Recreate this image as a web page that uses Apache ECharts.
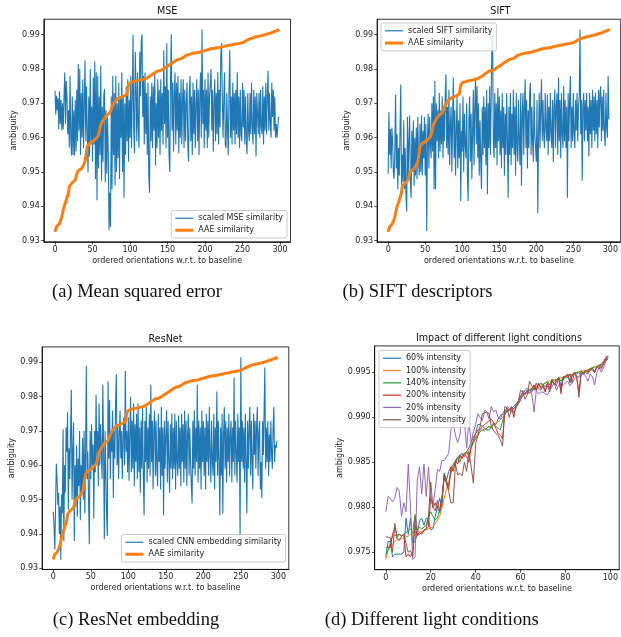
<!DOCTYPE html>
<html><head><meta charset="utf-8">
<script src="https://cdn.jsdelivr.net/npm/echarts@6/dist/echarts.min.js"></script>
<style>html,body{margin:0;padding:0;background:#fff}#c{width:621px;height:637px}</style>
</head><body><div id="c"></div>
<script>
const xTicks300 = [0,50,100,150,200,250,300];
const yTicksSim = [0.93,0.94,0.95,0.96,0.97,0.98,0.99];
const xTicks100 = [0,20,40,60,80,100];
const yTicksLight = [0.975,0.980,0.985,0.990,0.995];

const aae = [
.9326,.9335,.9341,.9343,.9345,.9347,.9349,.9356,.9363,.9370,
.9380,.9390,.9399,.9405,.9412,.9418,.9420,.9423,.9440,.9457,
.9461,.9464,.9467,.9469,.9471,.9473,.9475,.9477,.9485,.9493,
.9501,.9503,.9505,.9507,.9508,.9510,.9511,.9516,.9521,.9526,
.9530,.9545,.9560,.9574,.9578,.9581,.9584,.9585,.9586,.9588,
.9589,.9590,.9592,.9593,.9596,.9598,.9601,.9603,.9610,.9617,
.9627,.9637,.9642,.9647,.9651,.9654,.9657,.9660,.9663,.9666,
.9667,.9669,.9670,.9671,.9677,.9683,.9689,.9695,.9698,.9702,
.9705,.9708,.9710,.9713,.9715,.9716,.9717,.9717,.9718,.9719,
.9720,.9721,.9722,.9723,.9724,.9725,.9727,.9740,.9753,.9757,
.9760,.9761,.9762,.9762,.9763,.9764,.9764,.9765,.9765,.9766,
.9766,.9767,.9767,.9768,.9768,.9769,.9769,.9770,.9770,.9771,
.9772,.9772,.9773,.9774,.9776,.9777,.9779,.9780,.9782,.9783,
.9785,.9786,.9788,.9789,.9791,.9792,.9794,.9794,.9795,.9795,
.9796,.9796,.9797,.9799,.9800,.9801,.9803,.9804,.9806,.9807,
.9808,.9810,.9811,.9813,.9814,.9816,.9817,.9819,.9820,.9822,
.9823,.9825,.9826,.9827,.9828,.9828,.9829,.9830,.9830,.9831,
.9832,.9834,.9835,.9837,.9838,.9840,.9841,.9842,.9842,.9843,
.9843,.9844,.9845,.9845,.9846,.9846,.9847,.9847,.9847,.9848,
.9848,.9848,.9849,.9849,.9850,.9851,.9851,.9852,.9852,.9853,
.9854,.9854,.9855,.9856,.9856,.9857,.9857,.9858,.9859,.9859,
.9860,.9860,.9860,.9861,.9861,.9861,.9862,.9862,.9862,.9863,
.9863,.9864,.9864,.9865,.9865,.9866,.9866,.9867,.9867,.9868,
.9868,.9869,.9869,.9869,.9870,.9870,.9871,.9871,.9872,.9872,
.9872,.9873,.9873,.9873,.9874,.9874,.9874,.9875,.9875,.9876,
.9877,.9878,.9879,.9880,.9881,.9882,.9884,.9885,.9886,.9887,
.9888,.9889,.9890,.9891,.9892,.9892,.9893,.9893,.9894,.9894,
.9895,.9895,.9896,.9896,.9897,.9897,.9898,.9898,.9899,.9899,
.9900,.9900,.9901,.9902,.9902,.9903,.9904,.9904,.9905,.9906,
.9907,.9908,.9909,.9909,.9910,.9911,.9912,.9913,.9914,.9916];

const mse = [
.9737,.9668,.9722,.9680,.9715,.9625,.9735,.9640,.9710,.9622,
.9700,.9625,.9720,.9790,.9640,.9765,.9715,.9610,.9680,.9571,
.9780,.9600,.9548,.9720,.9550,.9680,.9548,.9710,.9560,.9740,
.9590,.9815,.9620,.9800,.9550,.9730,.9600,.9770,.9570,.9700,
.9825,.9590,.9750,.9620,.9500,.9720,.9545,.9800,.9590,.9690,
.9530,.9775,.9580,.9823,.9480,.9790,.9418,.9780,.9510,.9720,
.9550,.9810,.9475,.9690,.9530,.9720,.9742,.9470,.9680,.9495,
.9660,.9560,.9330,.9440,.9340,.9720,.9450,.9780,.9550,.9730,
.9460,.9780,.9500,.9700,.9540,.9760,.9480,.9720,.9600,.9790,
.9500,.9720,.9425,.9700,.9550,.9750,.9590,.9770,.9530,.9710,
.9600,.9780,.9570,.9720,.9900,.9620,.9555,.9850,.9740,.9590,
.9790,.9630,.9570,.9850,.9720,.9880,.9901,.9660,.9780,.9580,
.9790,.9610,.9730,.9550,.9760,.9490,.9440,.9720,.9590,.9760,
.9570,.9750,.9620,.9790,.9520,.9700,.9570,.9770,.9600,.9740,
.9550,.9770,.9620,.9730,.9580,.9855,.9640,.9750,.9570,.9875,
.9600,.9740,.9550,.9500,.9770,.9901,.9620,.9760,.9560,.9730,
.9790,.9580,.9760,.9620,.9780,.9555,.9730,.9600,.9770,.9580,
.9710,.9770,.9570,.9740,.9590,.9700,.9760,.9580,.9530,.9730,
.9780,.9590,.9720,.9550,.9760,.9610,.9740,.9570,.9700,.9770,
.9590,.9740,.9550,.9720,.9790,.9600,.9915,.9640,.9740,.9570,
.9770,.9620,.9740,.9570,.9790,.9600,.9720,.9760,.9800,.9620,
.9740,.9560,.9700,.9770,.9590,.9730,.9610,.9790,.9580,.9740,
.9630,.9840,.9875,.9720,.9600,.9710,.9790,.9580,.9570,.9730,
.9620,.9550,.9750,.9855,.9600,.9720,.9580,.9760,.9620,.9730,
.9580,.9740,.9610,.9790,.9600,.9720,.9570,.9740,.9610,.9590,
.9760,.9630,.9740,.9580,.9720,.9600,.9552,.9730,.9620,.9590,
.9730,.9610,.9760,.9630,.9580,.9740,.9610,.9720,.9545,.9730,
.9735,.9610,.9730,.9600,.9740,.9630,.9610,.9750,.9580,.9720,
.9620,.9760,.9610,.9720,.9795,.9620,.9730,.9640,.9600,.9760,
.9660,.9740,.9620,.9720,.9600,.9640,.9600,.9630,.9660,.9660];

const sift = [
.9495,.9675,.9550,.9625,.9510,.9630,.9590,.9500,.9480,.9570,
.9725,.9510,.9610,.9450,.9570,.9490,.9620,.9755,.9460,.9550,
.9470,.9650,.9450,.9570,.9430,.9385,.9660,.9480,.9590,.9665,
.9470,.9425,.9620,.9500,.9650,.9460,.9600,.9490,.9630,.9480,
.9660,.9530,.9490,.9640,.9500,.9665,.9490,.9620,.9540,.9660,
.9490,.9640,.9328,.9590,.9670,.9510,.9660,.9580,.9540,.9700,
.9560,.9720,.9450,.9765,.9450,.9700,.9590,.9680,.9540,.9730,
.9560,.9680,.9580,.9720,.9540,.9690,.9590,.9720,.9785,.9570,
.9690,.9550,.9740,.9520,.9640,.9690,.9500,.9650,.9775,.9540,
.9680,.9490,.9620,.9720,.9510,.9650,.9540,.9700,.9415,.9620,
.9560,.9720,.9500,.9670,.9580,.9540,.9700,.9490,.9415,.9650,
.9720,.9530,.9670,.9480,.9620,.9740,.9520,.9690,.9775,.9580,
.9750,.9540,.9700,.9490,.9650,.9530,.9450,.9690,.9550,.9720,
.9570,.9690,.9520,.9740,.9435,.9700,.9570,.9750,.9550,.9700,
.9865,.9900,.9590,.9540,.9730,.9570,.9700,.9520,.9745,.9590,
.9720,.9550,.9680,.9510,.9730,.9570,.9690,.9490,.9670,.9550,
.9730,.9590,.9425,.9690,.9550,.9730,.9520,.9670,.9570,.9740,
.9550,.9690,.9490,.9730,.9570,.9530,.9710,.9590,.9520,.9730,
.9460,.9670,.9730,.9550,.9690,.9770,.9570,.9710,.9510,.9680,
.9570,.9730,.9760,.9550,.9690,.9590,.9530,.9730,.9610,.9570,
.9530,.9710,.9380,.9600,.9730,.9570,.9690,.9770,.9590,.9710,
.9610,.9570,.9730,.9630,.9590,.9725,.9550,.9690,.9590,.9730,
.9610,.9570,.9710,.9530,.9690,.9740,.9570,.9690,.9730,.9550,
.9775,.9590,.9710,.9540,.9730,.9610,.9570,.9750,.9590,.9710,
.9570,.9690,.9425,.9730,.9590,.9710,.9780,.9570,.9690,.9590,
.9730,.9610,.9570,.9710,.9620,.9730,.9590,.9690,.9720,.9915,
.9610,.9710,.9475,.9690,.9730,.9590,.9710,.9620,.9730,.9590,
.9690,.9545,.9730,.9610,.9710,.9570,.9740,.9620,.9720,.9590,
.9730,.9610,.9710,.9570,.9740,.9630,.9730,.9750,.9590,.9720,
.9620,.9740,.9610,.9575,.9730,.9630,.9600,.9780,.9655,.9655];

const resnet = [
.9465,.9420,.9355,.9480,.9605,.9560,.9485,.9520,.9400,.9480,
.9325,.9515,.9460,.9705,.9380,.9600,.9520,.9710,.9640,.9755,
.9470,.9650,.9560,.9700,.9820,.9500,.9640,.9725,.9380,.9600,
.9480,.9660,.9450,.9620,.9540,.9700,.9440,.9600,.9520,.9680,
.9500,.9700,.9460,.9640,.9890,.9560,.9640,.9500,.9370,.9700,
.9560,.9720,.9600,.9660,.9445,.9700,.9580,.9805,.9620,.9700,
.9540,.9780,.9600,.9720,.9640,.9560,.9835,.9650,.9385,.9700,
.9580,.9455,.9395,.9845,.9620,.9790,.9560,.9700,.9640,.9760,
.9505,.9700,.9620,.9780,.9865,.9600,.9720,.9560,.9690,.9760,
.9620,.9700,.9560,.9680,.9740,.9600,.9875,.9640,.9700,.9580,
.9740,.9555,.9700,.9800,.9580,.9730,.9590,.9780,.9540,.9720,
.9610,.9750,.9560,.9780,.9580,.9710,.9520,.9730,.9590,.9770,
.9570,.9455,.9730,.9610,.9770,.9550,.9710,.9590,.9750,.9570,
.9835,.9610,.9730,.9530,.9710,.9760,.9570,.9730,.9590,.9540,
.9750,.9610,.9710,.9530,.9770,.9570,.9710,.9455,.9730,.9590,
.9690,.9760,.9550,.9730,.9610,.9520,.9720,.9590,.9750,.9560,
.9710,.9590,.9750,.9530,.9730,.9610,.9570,.9745,.9590,.9710,
.9540,.9750,.9610,.9720,.9550,.9760,.9590,.9730,.9540,.9690,
.9750,.9570,.9710,.9610,.9540,.9490,.9730,.9590,.9760,.9570,
.9710,.9610,.9835,.9550,.9730,.9590,.9710,.9530,.9760,.9610,
.9730,.9570,.9710,.9530,.9750,.9610,.9730,.9570,.9770,.9630,
.9550,.9730,.9610,.9570,.9750,.9530,.9710,.9610,.9815,.9570,
.9730,.9610,.9455,.9710,.9570,.9750,.9460,.9690,.9770,.9590,
.9730,.9550,.9710,.9610,.9750,.9570,.9690,.9730,.9550,.9710,
.9610,.9855,.9570,.9730,.9630,.9550,.9750,.9610,.9710,.9385,
.9915,.9610,.9730,.9590,.9710,.9550,.9750,.9610,.9460,.9730,
.9590,.9710,.9770,.9570,.9730,.9610,.9530,.9750,.9630,.9730,
.9590,.9710,.9770,.9570,.9690,.9730,.9530,.9610,.9505,.9730,
.9630,.9750,.9885,.9590,.9710,.9610,.9730,.9570,.9690,.9610,
.9730,.9630,.9590,.9710,.9770,.9610,.9660,.9650,.9670,.9670];

const light60 = [
.9745,.9762,.9762,.9745,.9748,.9748,.9748,.9748,.9750,.9788,
.9770,.9788,.9760,.9762,.9770,.9785,.9788,.9780,.9788,.9786,
.9775,.9776,.9790,.9800,.9810,.9800,.9838,.9830,.9840,.9845,
.9847,.9852,.9855,.9858,.9860,.9856,.9862,.9866,.9872,.9878,
.9882,.9892,.9892,.9890,.9888,.9886,.9886,.9888,.9894,.9892,
.9898,.9902,.9904,.9908,.9906,.9908,.9910,.9912,.9915,.9918,
.9922,.9926,.9930,.9932,.9930,.9928,.9934,.9930,.9936,.9938,
.9936,.9934,.9938,.9932,.9940,.9936,.9942,.9944,.9935,.9942,
.9944,.9948,.9938,.9946,.9950,.9948,.9950,.9946,.9950,.9952,
.9950,.9952,.9955,.9950,.9956,.9958,.9955,.9960,.9963,.9966];
const light100 = [
.9742,.9752,.9755,.9758,.9762,.9764,.9765,.9765,.9766,.9767,
.9768,.9770,.9771,.9772,.9772,.9773,.9773,.9774,.9775,.9776,
.9777,.9778,.9782,.9786,.9790,.9800,.9810,.9820,.9828,.9838,
.9846,.9850,.9853,.9855,.9857,.9858,.9860,.9863,.9866,.9872,
.9878,.9882,.9884,.9886,.9887,.9888,.9889,.9890,.9892,.9894,
.9895,.9897,.9900,.9903,.9906,.9908,.9909,.9910,.9913,.9916,
.9920,.9924,.9927,.9929,.9931,.9932,.9933,.9934,.9935,.9936,
.9937,.9938,.9939,.9940,.9941,.9942,.9942,.9943,.9944,.9944,
.9945,.9946,.9947,.9948,.9949,.9950,.9950,.9951,.9952,.9952,
.9953,.9954,.9955,.9956,.9957,.9958,.9959,.9961,.9964,.9966];
const light140 = [
.9748,.9752,.9760,.9768,.9770,.9766,.9770,.9768,.9770,.9772,
.9774,.9776,.9772,.9792,.9775,.9778,.9776,.9778,.9780,.9790,
.9795,.9790,.9786,.9788,.9798,.9810,.9832,.9828,.9824,.9840,
.9845,.9848,.9856,.9850,.9858,.9860,.9862,.9856,.9866,.9872,
.9876,.9880,.9884,.9886,.9885,.9888,.9890,.9888,.9892,.9890,
.9888,.9886,.9896,.9904,.9906,.9908,.9906,.9910,.9912,.9914,
.9920,.9924,.9926,.9928,.9930,.9932,.9934,.9932,.9936,.9934,
.9936,.9938,.9940,.9936,.9942,.9940,.9942,.9944,.9940,.9944,
.9944,.9946,.9948,.9946,.9948,.9950,.9950,.9952,.9948,.9952,
.9952,.9954,.9955,.9956,.9956,.9958,.9958,.9960,.9964,.9966];
const light200 = [
.9756,.9755,.9756,.9770,.9778,.9769,.9770,.9768,.9770,.9745,
.9748,.9745,.9750,.9780,.9768,.9772,.9770,.9775,.9776,.9778,
.9812,.9800,.9805,.9798,.9796,.9810,.9836,.9830,.9820,.9845,
.9840,.9852,.9848,.9858,.9854,.9860,.9856,.9850,.9868,.9874,
.9882,.9886,.9886,.9890,.9892,.9894,.9896,.9898,.9894,.9888,
.9882,.9880,.9876,.9906,.9910,.9908,.9912,.9900,.9914,.9918,
.9924,.9928,.9926,.9930,.9926,.9932,.9936,.9930,.9938,.9932,
.9934,.9928,.9938,.9932,.9942,.9936,.9940,.9944,.9930,.9945,
.9945,.9948,.9940,.9946,.9950,.9944,.9928,.9950,.9950,.9952,
.9950,.9954,.9952,.9950,.9956,.9956,.9954,.9960,.9965,.9968];
const light20 = [
.9795,.9812,.9810,.9806,.9810,.9822,.9818,.9790,.9805,.9795,
.9848,.9800,.9742,.9745,.9830,.9845,.9815,.9848,.9812,.9845,
.9810,.9800,.9820,.9842,.9840,.9852,.9852,.9856,.9860,.9886,
.9894,.9880,.9872,.9880,.9905,.9895,.9866,.9896,.9872,.9884,
.9892,.9904,.9900,.9896,.9908,.9906,.9898,.9912,.9906,.9908,
.9900,.9898,.9904,.9902,.9912,.9910,.9906,.9910,.9912,.9916,
.9918,.9930,.9925,.9928,.9930,.9926,.9906,.9930,.9926,.9928,
.9928,.9926,.9925,.9930,.9934,.9938,.9930,.9936,.9938,.9936,
.9938,.9940,.9935,.9938,.9942,.9946,.9944,.9950,.9948,.9946,
.9940,.9948,.9945,.9936,.9950,.9955,.9950,.9956,.9962,.9965];
const light300 = [
.9767,.9767,.9766,.9750,.9782,.9765,.9763,.9768,.9770,.9760,
.9750,.9752,.9745,.9790,.9770,.9770,.9772,.9774,.9776,.9790,
.9828,.9800,.9796,.9808,.9794,.9808,.9836,.9826,.9818,.9805,
.9805,.9848,.9836,.9838,.9835,.9850,.9840,.9862,.9845,.9827,
.9870,.9880,.9890,.9904,.9905,.9906,.9904,.9890,.9885,.9882,
.9880,.9875,.9868,.9912,.9910,.9900,.9910,.9905,.9910,.9918,
.9930,.9928,.9920,.9925,.9940,.9935,.9930,.9938,.9932,.9930,
.9936,.9930,.9935,.9928,.9940,.9938,.9935,.9944,.9926,.9945,
.9946,.9944,.9948,.9938,.9950,.9946,.9922,.9950,.9948,.9950,
.9948,.9952,.9955,.9950,.9956,.9954,.9960,.9962,.9967,.9968];

const FONT = 'DejaVu Sans';
const FS = 8;
const pairs = arr => arr.map((v, i) => [i, v]);

function axisCommon(ticks) {
  return {
    axisLine: { show: true, onZero: false, lineStyle: { color: '#000', width: 0.8 } },
    splitLine: { show: false },
    axisTick: { show: true, inside: false, customValues: ticks, length: 2.8, lineStyle: { color: '#000', width: 0.7 } },
    nameTextStyle: { fontSize: FS, color: '#222', fontFamily: FONT }
  };
}
function xAx(g, min, max, ticks) {
  return Object.assign(axisCommon(ticks), { gridIndex: g, type: 'value', min: min, max: max, position: 'bottom',
    axisLabel: { show: true, customValues: ticks, margin: 4, fontSize: FS, color: '#222', fontFamily: FONT },
    name: 'ordered orientations w.r.t. to baseline', nameLocation: 'middle', nameGap: 15 });
}
function yAx(g, min, max, ticks, dec) {
  return Object.assign(axisCommon(ticks), { gridIndex: g, type: 'value', min: min, max: max, position: 'left',
    axisLabel: { show: true, customValues: ticks, margin: 4, fontSize: FS, color: '#222', fontFamily: FONT,
      formatter: v => Number(v).toFixed(dec) },
    name: 'ambiguity', nameLocation: 'middle', nameGap: 26, nameRotate: 90 });
}
function line(name, data, g, color, w) {
  return { type: 'line', name: name, data: pairs(data), xAxisIndex: g, yAxisIndex: g,
    symbol: 'none', showSymbol: false, animation: false, clip: true,
    lineStyle: { color: color, width: w }, itemStyle: { color: color } };
}
const THIN = 'path://M0,0H18V1.2H0Z';
const THICK = 'path://M0,0H18V3H0Z';
function legend(pos, items, gap) {
  return Object.assign({ orient: 'vertical', data: items, itemWidth: 18, itemHeight: 8, itemGap: gap,
    padding: [3, 4, 3, 4], borderColor: '#ccc', borderWidth: 1, borderRadius: 2,
    backgroundColor: 'rgba(255,255,255,0.85)', selectedMode: false, symbolKeepAspect: true,
    textStyle: { fontSize: FS, color: '#222', fontFamily: FONT, lineHeight: 9.5 } }, pos);
}
function ttl(text, x, y, size, family) {
  return { text: text, left: x, top: y, textAlign: 'center', textVerticalAlign: 'middle', padding: 0,
    textStyle: { fontSize: size, fontWeight: 'normal', color: '#111', fontFamily: family } };
}

const BLUE = '#1f77b4', ORANGE = '#ff7f0e';
const lightNames = ['60% intensity', '100% intensity', '140% intensity', '200% intensity', '20% intensity', '300% intensity'];
const lightColors = ['#1f77b4', '#ff7f0e', '#2ca02c', '#d62728', '#9467bd', '#8c564b'];
const grids = [
  { left: 43.8, top: 19.25, width: 246.7, height: 222.5 },
  { left: 377.1, top: 19.25, width: 246.7, height: 222.5 },
  { left: 42.1, top: 346.9, width: 246.7, height: 222.5 },
  { left: 374.7, top: 345.9, width: 248.3, height: 223.8 }
].map(g => Object.assign({ show: true, borderColor: '#000', borderWidth: 0.8, backgroundColor: 'transparent' }, g));

const option = {
  animation: false,
  backgroundColor: '#fff',
  grid: grids,
  title: [
    ttl('MSE', 167.2, 11.5, 9.6, FONT),
    ttl('SIFT', 500.4, 11.5, 9.6, FONT),
    ttl('ResNet', 165.5, 339, 9.6, FONT),
    ttl('Impact of different light conditions', 498.9, 338.5, 9.6, FONT),
    ttl('(a) Mean squared error', 137, 292, 18.5, 'Liberation Serif'),
    ttl('(b) SIFT descriptors', 417.5, 292, 18.5, 'Liberation Serif'),
    ttl('(c) ResNet embedding', 136, 620, 18.5, 'Liberation Serif'),
    ttl('(d) Different light conditions', 431.7, 620, 18.5, 'Liberation Serif')
  ],
  legend: [
    legend({ right: 334, bottom: 399 }, [{ name: 'scaled MSE similarity', icon: THIN }, { name: 'AAE similarity', icon: THICK }], 2.5),
    legend({ left: 381, top: 23 }, [{ name: 'scaled SIFT similarity', icon: THIN }, { name: 'AAE similarity', icon: THICK }], 2.8),
    legend({ right: 335.5, bottom: 75 }, [{ name: 'scaled CNN embedding similarity', icon: THIN }, { name: 'AAE similarity', icon: THICK }], 2.5),
    legend({ left: 379, top: 350.5 }, lightNames.map(n => ({ name: n, icon: THIN })), 2.8)
  ],
  xAxis: [
    xAx(0, -14.95, 313.95, xTicks300), xAx(1, -14.95, 313.95, xTicks300),
    xAx(2, -14.95, 313.95, xTicks300), xAx(3, -4.95, 103.95, xTicks100)
  ],
  yAxis: [
    yAx(0, 0.9297, 0.9945, yTicksSim, 2), yAx(1, 0.9297, 0.9945, yTicksSim, 2),
    yAx(2, 0.9297, 0.9945, yTicksSim, 2), yAx(3, 0.97307, 0.99793, yTicksLight, 3)
  ],
  series: [
    line('scaled MSE similarity', mse, 0, BLUE, 1.1),
    line('AAE similarity', aae, 0, ORANGE, 3),
    line('scaled SIFT similarity', sift, 1, BLUE, 1.1),
    line('AAE similarity', aae, 1, ORANGE, 3),
    line('scaled CNN embedding similarity', resnet, 2, BLUE, 1.1),
    line('AAE similarity', aae, 2, ORANGE, 3),
    line(lightNames[0], light60, 3, lightColors[0], 1),
    line(lightNames[1], light100, 3, lightColors[1], 1),
    line(lightNames[2], light140, 3, lightColors[2], 1),
    line(lightNames[3], light200, 3, lightColors[3], 1),
    line(lightNames[4], light20, 3, lightColors[4], 1),
    line(lightNames[5], light300, 3, lightColors[5], 1)
  ]
};
const chart = echarts.init(document.getElementById('c'), null, { renderer: 'canvas' });
chart.setOption(option);
</script></body></html>
